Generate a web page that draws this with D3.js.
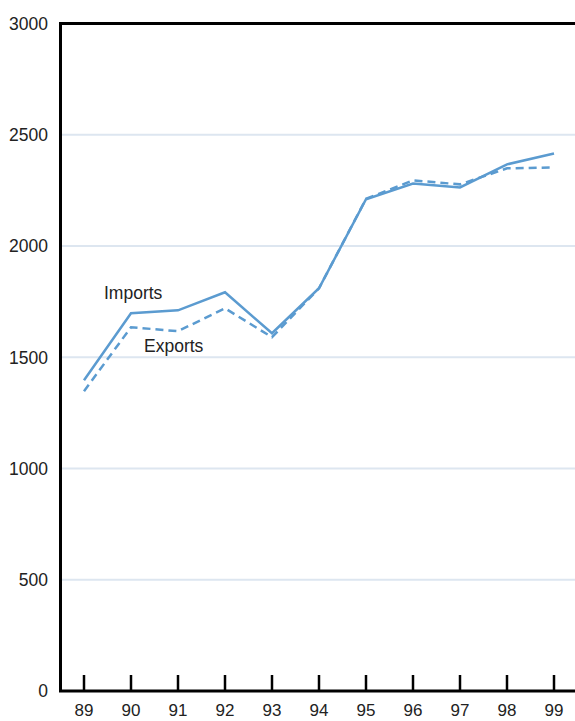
<!DOCTYPE html>
<html><head><meta charset="utf-8">
<script src="https://cdn.jsdelivr.net/npm/d3@7"></script>
<style>html,body{margin:0;padding:0;background:#fff;}svg{display:block;}</style>
</head><body>
<svg id="c" width="575" height="721"></svg>
<script>
const years = ["89","90","91","92","93","94","95","96","97","98","99"];
const imports = [1397,1698,1711,1792,1608,1810,2210,2281,2263,2367,2416];
const exports_ = [1347,1635,1617,1720,1590,1810,2212,2295,2277,2349,2353];
const yTicks = [0,500,1000,1500,2000,2500,3000];
const seriesLabels = ["Imports","Exports"];

const svg = d3.select("#c");
const font = "'Liberation Sans', Arial, sans-serif";
const x = d3.scalePoint().domain(years).range([84,554]);
const y = d3.scaleLinear().domain([0,3000]).range([691,23.5]);
const color = "#5b9bd0";

// gridlines
svg.append("g").selectAll("line").data(yTicks.filter(d=>d>0 && d<3000)).join("line")
  .attr("x1",60).attr("x2",575).attr("y1",d=>y(d)).attr("y2",d=>y(d))
  .attr("stroke","#dde6f0").attr("stroke-width",2);

// y labels
svg.append("g").selectAll("text").data(yTicks).join("text")
  .attr("x",48).attr("y",d=>y(d)).attr("dy","0.36em").attr("text-anchor","end")
  .attr("font-family",font).attr("font-size",17.5).attr("fill","#222").text(d=>d);

// x ticks
svg.append("g").selectAll("line").data(years).join("line")
  .attr("x1",d=>x(d)).attr("x2",d=>x(d)).attr("y1",675).attr("y2",691)
  .attr("stroke","#000").attr("stroke-width",2.5);
svg.append("g").selectAll("text").data(years).join("text")
  .attr("x",d=>x(d)).attr("y",716).attr("text-anchor","middle")
  .attr("font-family",font).attr("font-size",17).attr("fill","#222").text(d=>d);

// axes frame
svg.append("path").attr("d",`M575,${y(3000)}H60.5V${y(0)}H575`)
  .attr("fill","none").attr("stroke","#000").attr("stroke-width",3);

const line = d3.line().x((d,i)=>x(years[i])).y(d=>y(d));
svg.append("path").datum(exports_).attr("d",line).attr("fill","none")
  .attr("stroke",color).attr("stroke-width",2.5).attr("stroke-dasharray","8,5");
svg.append("path").datum(imports).attr("d",line).attr("fill","none")
  .attr("stroke",color).attr("stroke-width",2.5);

svg.append("text").attr("x",104).attr("y",299).attr("font-family",font)
  .attr("font-size",17.5).attr("fill","#222").text(seriesLabels[0]);
svg.append("text").attr("x",144).attr("y",352).attr("font-family",font)
  .attr("font-size",17.5).attr("fill","#222").text(seriesLabels[1]);
</script>
</body></html>
